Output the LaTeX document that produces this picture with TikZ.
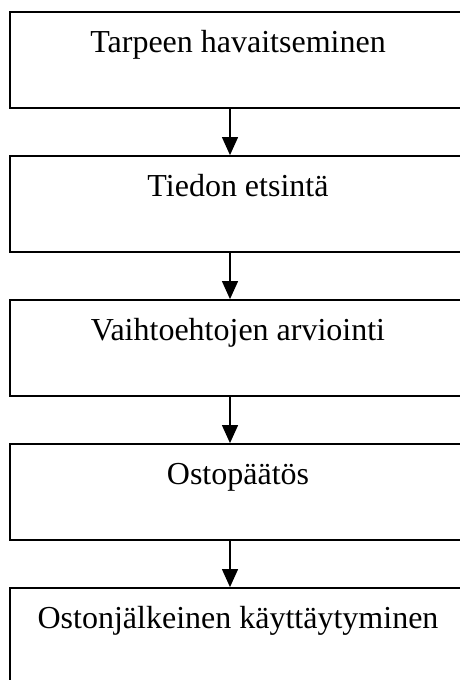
\documentclass[tikz,border=0pt]{standalone}
\usepackage{fontspec}
\setmainfont{Liberation Serif}
\usetikzlibrary{arrows.meta}
\tikzset{laatikko/.style={draw,line width=0.9pt,minimum width=228pt,inner xsep=0pt,inner ysep=0pt,
                          text height=20pt,text depth=28pt,font=\fontsize{16}{19}\selectfont},
         nuoli/.style={line width=0.6pt,-{Triangle[width=8pt,length=9pt]}}}

\begin{document}
\begin{tikzpicture}[x=0.5pt,y=-0.5pt]
     \clip (0,0) rectangle (460,680);
     \node[laatikko] (b1) at (238, 60) {Tarpeen havaitseminen};
     \node[laatikko] (b2) at (238,204) {Tiedon etsintä};
     \node[laatikko] (b3) at (238,348) {Vaihtoehtojen arviointi};
     \node[laatikko] (b4) at (238,492) {Ostopäätös};
     \node[laatikko] (b5) at (238,636) {Ostonjälkeinen käyttäytyminen};
     \coordinate (ax) at (230,0);
     \draw[nuoli] (b1.south -| ax) -- (b2.north -| ax);
     \draw[nuoli] (b2.south -| ax) -- (b3.north -| ax);
     \draw[nuoli] (b3.south -| ax) -- (b4.north -| ax);
     \draw[nuoli] (b4.south -| ax) -- (b5.north -| ax);
\end{tikzpicture}
\end{document}
